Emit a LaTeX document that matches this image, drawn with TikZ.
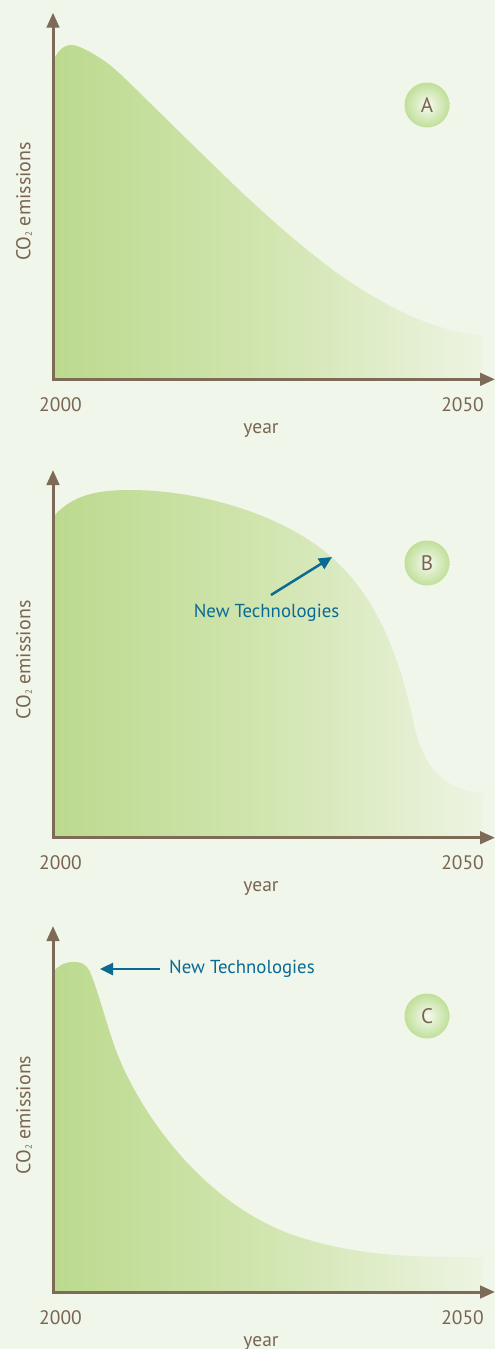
\documentclass[tikz,border=0pt]{standalone}
\usepackage{fontspec}
\setmainfont{PT Sans}
\usetikzlibrary{arrows.meta}
\definecolor{bg}{HTML}{F0F6E9}
\definecolor{axiscol}{HTML}{7D6B58}
\definecolor{txt}{HTML}{7A6552}
\definecolor{techblue}{HTML}{0B6A94}
\definecolor{gL}{HTML}{BCDA8E}
\definecolor{gM}{HTML}{D1E5B0}
\definecolor{gR}{HTML}{EDF4E2}
\definecolor{badgeout}{HTML}{C0DF99}
\definecolor{badgein}{HTML}{F6FAF0}
\newcommand{\cotwo}{CO\raisebox{-0.15ex}{\fontsize{9}{9}\selectfont 2}}
\begin{document}
\begin{tikzpicture}[x=1pt,y=-1pt,
  axisline/.style={draw=axiscol, line width=3pt, line join=miter,
    {Triangle[length=15pt,width=12.5pt]}-{Triangle[length=15pt,width=12.5pt]}},
  area/.style={left color=gL, right color=gR, middle color=gM},
  badge/.style={circle, minimum size=45pt, inner sep=0pt, inner color=badgein,
    outer color=badgeout, text=txt, font=\fontsize{21}{21}\selectfont},
  yearlbl/.style={text=txt, anchor=base, inner sep=0pt, font=\fontsize{19.5}{20}\selectfont},
  ylbl/.style={text=txt, rotate=90, inner sep=0pt, font=\fontsize{20}{20}\selectfont},
  techlbl/.style={text=techblue, inner sep=0pt, font=\fontsize{18.8}{19}\selectfont},
  techarrow/.style={draw=techblue, line width=2.5pt, -{Triangle[length=13pt,width=12pt]}}
]
\fill[bg] (0,0) rectangle (495,1349);
\useasboundingbox (0,0) rectangle (495,1349);

% ---------- Chart A ----------
\shade[area] (53,379.3) -- plot[smooth, tension=0.6] coordinates {(53,61) (60,50) (70,45) (82,48) (100,58) (118,72) (150,103) (200,152) (250,200) (300,244) (350,282) (400,311) (440,327) (470,334) (483,335)} -- (483,379.3) -- cycle;
\coordinate (aTop) at (53,12.7);
\coordinate (aO) at (53,379.3);
\coordinate (aR) at (495,379.3);
\draw[axisline] (aTop) -- (aO) -- (aR);
\node[badge] (bA) at (427,105) {A};
\node[yearlbl] (a2000) at (60.5,411) {2000};
\node[yearlbl] (a2050) at (462.5,411) {2050};
\node[yearlbl] (ayear) at (261,433) {year};
\node[ylbl] (aco) at (24,201.5) {\cotwo\ emissions};

% ---------- Chart B ----------
\shade[area] (53,837.7) -- (53,517)
  .. controls (70,498) and (90,490) .. (130,490)
  .. controls (200,490) and (290,515) .. (340,565)
  .. controls (380,605) and (400,660) .. (413,720)
  .. controls (420,755) and (435,790) .. (483,793)
  -- (483,837.7) -- cycle;
\coordinate (bTop) at (53,470);
\coordinate (bO) at (53,837.7);
\coordinate (bR) at (495,837.7);
\draw[axisline] (bTop) -- (bO) -- (bR);
\node[badge] (bB) at (427,563) {B};
\node[yearlbl] (b2000) at (60.5,869.4) {2000};
\node[yearlbl] (b2050) at (462.5,869.4) {2050};
\node[yearlbl] (byear) at (261,891.4) {year};
\node[ylbl] (bco) at (24,660) {\cotwo\ emissions};
\node[techlbl] (ntB) at (266.5,613) {New Technologies};
\coordinate (sB) at (271,595);
\coordinate (tB) at (332,557);
\draw[techarrow] (sB) -- (tB);

% ---------- Chart C ----------
\shade[area] (53,1292) -- (53,972)
  .. controls (60,964) and (66,962) .. (74,962)
  .. controls (82,962) and (86,964) .. (90,972)
  .. controls (98,990) and (108,1030) .. (117,1053)
  .. controls (140,1112) and (200,1200) .. (290,1234)
  .. controls (360,1258) and (420,1257) .. (483,1257)
  -- (483,1292) -- cycle;
\coordinate (cTop) at (53,926);
\coordinate (cO) at (53,1292);
\coordinate (cR) at (495,1292);
\draw[axisline] (cTop) -- (cO) -- (cR);
\node[badge] (bC) at (427,1016) {C};
\node[yearlbl] (c2000) at (60.5,1324) {2000};
\node[yearlbl] (c2050) at (462.5,1324) {2050};
\node[yearlbl] (cyear) at (261,1346) {year};
\node[ylbl] (cco) at (24,1115) {\cotwo\ emissions};
\node[techlbl, anchor=west] (ntC) at (169,969) {New Technologies};
\coordinate (sC) at (160,969);
\coordinate (tC) at (100,969);
\draw[techarrow] (sC) -- (tC);
\end{tikzpicture}
\end{document}
